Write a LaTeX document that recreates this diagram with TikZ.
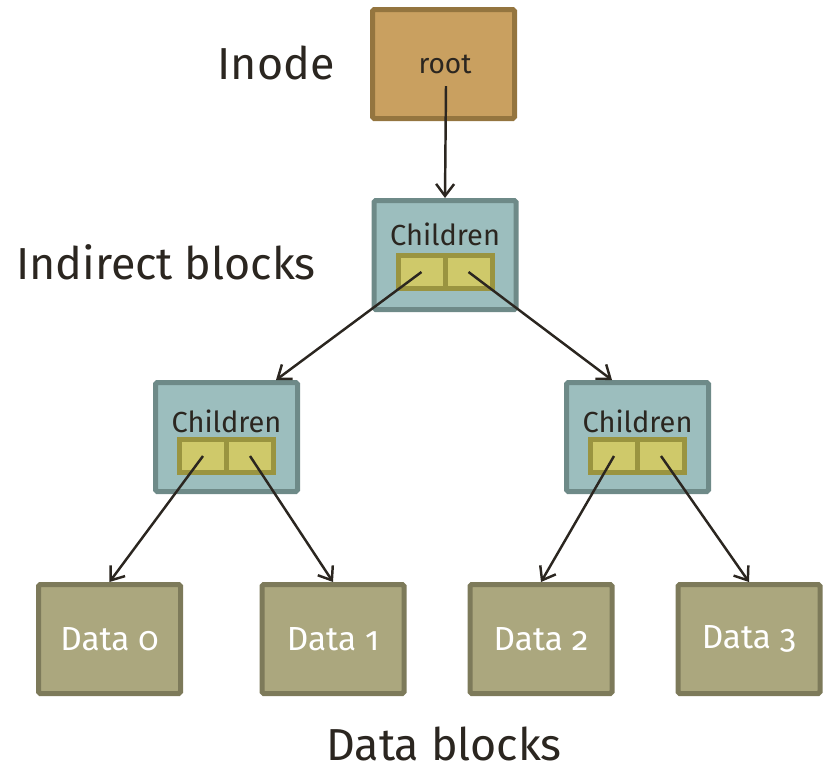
\documentclass[tikz,border=0pt]{standalone}
\usepackage{fontspec}
\setmainfont[Numbers=OldStyle]{Fira Sans}
\usetikzlibrary{arrows.meta}

\definecolor{rootfill}{HTML}{C9A060}
\definecolor{rootline}{HTML}{94753F}
\definecolor{blockfill}{HTML}{9CBEBE}
\definecolor{blockline}{HTML}{6E8A88}
\definecolor{slotfill}{HTML}{CFC96A}
\definecolor{slotline}{HTML}{9A9440}
\definecolor{datafill}{HTML}{ABA77E}
\definecolor{dataline}{HTML}{7D7A5A}
\definecolor{ink}{HTML}{2B2620}

\begin{document}
\begin{tikzpicture}[line width = 0.1cm, text = ink,
                    box/.style = {draw, rounded corners = 1pt, minimum width = 2.84cm,
                                  minimum height = 2.18cm, inner sep = 0pt},
                    inode/.style = {box, fill = rootfill, draw = rootline},
                    indirect/.style = {box, fill = blockfill, draw = blockline},
                    slot/.style = {draw = slotline, fill = slotfill, minimum width = 0.94cm,
                                   minimum height = 0.66cm, inner sep = 0pt},
                    datablk/.style = {box, fill = datafill, draw = dataline, text = white,
                                      font = \fontsize{19}{22}\selectfont},
                    kids/.style = {font = \fontsize{16.5}{19}\selectfont},
                    level/.style = {font = \fontsize{25.5}{30}\selectfont, inner sep = 1pt},
                    ptr/.style = {draw = ink, line width = 1.4pt,
                                  -{Straight Barb[length = 2.4mm, width = 3.6mm]}}]
  \useasboundingbox (0,0) rectangle (16.56,-15.4);

  \node [level] (Lino) at (5.52,-1.26) {Inode};
  \node [level] (Lind) at (3.32,-5.24) {Indirect blocks};
  \node [level] (Ldat) at (8.88,-14.88) {Data blocks};

  \node [inode] (root) at (8.87,-1.28) {};
  \node [font = \fontsize{16}{19}\selectfont] (rootT) at (8.90,-1.28) {root};

  \node [indirect] (I) at (8.90,-5.10) {};
  \node [kids] (IT) at (8.90,-4.68) {Children};
  \node [slot] (I1) at (8.43,-5.44) {};
  \node [slot] (I2) at (9.37,-5.44) {};

  \node [indirect] (L) at (4.53,-8.74) {};
  \node [kids] (LT) at (4.53,-8.42) {Children};
  \node [slot] (L1) at (4.06,-9.12) {};
  \node [slot] (L2) at (5.00,-9.12) {};

  \node [indirect] (R) at (12.75,-8.74) {};
  \node [kids] (RT) at (12.75,-8.42) {Children};
  \node [slot] (R1) at (12.28,-9.12) {};
  \node [slot] (R2) at (13.22,-9.12) {};

  \node [datablk] (D0) at (2.19,-12.78) {Data 0};
  \node [datablk] (D1) at (6.66,-12.78) {Data 1};
  \node [datablk] (D2) at (10.82,-12.78) {Data 2};
  \node [datablk] (D3) at (14.98,-12.78) {Data 3};

  \draw [ptr] (8.92,-1.72) -- (I.north);
  \draw [ptr] (I1.center) -- ([xshift = 0.99cm]L.north);
  \draw [ptr] (I2.center) -- ([xshift = -0.51cm]R.north);
  \draw [ptr] (L1.center) -- (D0.north);
  \draw [ptr] (L2.center) -- (D1.north);
  \draw [ptr] (R1.center) -- (D2.north);
  \draw [ptr] (R2.center) -- (D3.north);
\end{tikzpicture}
\end{document}
